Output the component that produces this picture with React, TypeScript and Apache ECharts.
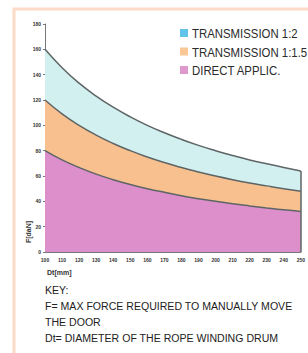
import React, { useEffect, useRef } from "react";
import * as echarts from "echarts";

const dt = [100, 110, 120, 130, 140, 150, 160, 170, 180, 190, 200, 210, 220, 230, 240, 250];
const trans12 = [160, 145.5, 133.3, 123.1, 114.3, 106.7, 100, 94.1, 88.9, 84.2, 80, 76.2, 72.7, 69.6, 66.7, 64];
const trans115 = [120, 109.1, 100, 92.3, 85.7, 80, 75, 70.6, 66.7, 63.2, 60, 57.1, 54.5, 52.2, 50, 48];
const direct = [80, 72.7, 66.7, 61.5, 57.1, 53.3, 50, 47.1, 44.4, 42.1, 40, 38.1, 36.4, 34.8, 33.3, 32];
const seriesNames = ["TRANSMISSION 1:2", "TRANSMISSION 1:1.5", "DIRECT APPLIC."];
const keyLines = [
  "KEY:",
  "F= MAX FORCE REQUIRED TO MANUALLY MOVE",
  "THE DOOR",
  "Dt= DIAMETER OF THE ROPE WINDING DRUM",
];

const FONT = "'Liberation Sans', Arial, sans-serif";

export default function App() {
  const ref = useRef<HTMLDivElement>(null);
  useEffect(() => {
    const chart = echarts.init(ref.current!, undefined, { renderer: "svg" });
    const legendColors = ["#5fc4ea", "#f9c896", "#df98cb"];
    const areaColors = ["#d3f0f0", "#f7c08e", "#dc8fcb"];
    const values = [trans12, trans115, direct];
    const lastIdx = dt.length - 1;
    chart.setOption({
      animation: false,
      backgroundColor: "#ffffff",
      grid: { left: 45, right: 7, top: 24, bottom: 101 },
      legend: { show: false },
      xAxis: {
        type: "value",
        min: 100,
        max: 250,
        interval: 10,
        axisLine: { lineStyle: { color: "#777", width: 1 } },
        axisTick: { show: false },
        splitLine: { show: false },
        axisLabel: { fontSize: 5, color: "#333", fontWeight: "bold", margin: 5 },
      },
      yAxis: {
        type: "value",
        min: 0,
        max: 180,
        interval: 20,
        axisLine: { show: true, lineStyle: { color: "#777", width: 1 } },
        axisTick: { show: true, length: 2, lineStyle: { color: "#777" } },
        splitLine: { show: false },
        axisLabel: { fontSize: 5, color: "#333", fontWeight: "bold", margin: 4 },
      },
      series: values.map((v, i) => ({
        name: seriesNames[i],
        type: "line",
        smooth: true,
        showSymbol: false,
        z: 2 + i,
        data: dt.map((x, j) => [x, v[j]]),
        itemStyle: { color: legendColors[i] },
        lineStyle: { color: "#5e6566", width: 1.5 },
        areaStyle: { color: areaColors[i], opacity: 1 },
        markLine:
          i === 0
            ? {
                silent: true,
                symbol: "none",
                label: { show: false },
                lineStyle: { color: "#5e6566", width: 1.5, type: "solid" },
                data: [[{ coord: [dt[lastIdx], 0] }, { coord: [dt[lastIdx], v[lastIdx]] }]],
              }
            : undefined,
      })),
      graphic: [
        {
          type: "rect",
          shape: { x: 14, y: 9, width: 310, height: 360 },
          style: { fill: "none", stroke: "#fcdcc8", lineWidth: 3 },
          z: 0,
        },
        ...seriesNames.flatMap((n, i) => [
          {
            type: "rect",
            shape: { x: 180, y: 29 + i * 18.5, width: 8, height: 8 },
            style: { fill: legendColors[i] },
            z: 10,
          },
          {
            type: "text",
            x: 192,
            y: 33.5 + i * 18.5,
            scaleX: 0.95,
            z: 10,
            style: {
              text: n,
              fontSize: 12,
              fontFamily: FONT,
              fill: "#2a2a2a",
              verticalAlign: "middle",
            },
          },
        ]),
        {
          type: "text",
          x: 28,
          y: 232,
          rotation: Math.PI / 2,
          style: {
            text: "F[daN]",
            fontSize: 7,
            fontWeight: "bold",
            fill: "#333",
            align: "center",
            verticalAlign: "middle",
          },
        },
        {
          type: "text",
          x: 47,
          y: 272,
          style: {
            text: "Dt[mm]",
            fontSize: 7,
            fontWeight: "bold",
            fill: "#333",
            verticalAlign: "middle",
          },
        },
        ...keyLines.map((t, i) => ({
          type: "text",
          x: 45,
          y: 290 + i * 16,
          scaleX: 0.92,
          style: {
            text: t,
            fontSize: 11.5,
            fontFamily: FONT,
            fill: "#222",
            verticalAlign: "middle",
          },
        })),
      ],
    });
    return () => chart.dispose();
  }, []);
  return (
    <div
      ref={ref}
      style={{ position: "absolute", left: 0, top: 0, width: 308, height: 353 }}
    />
  );
}
